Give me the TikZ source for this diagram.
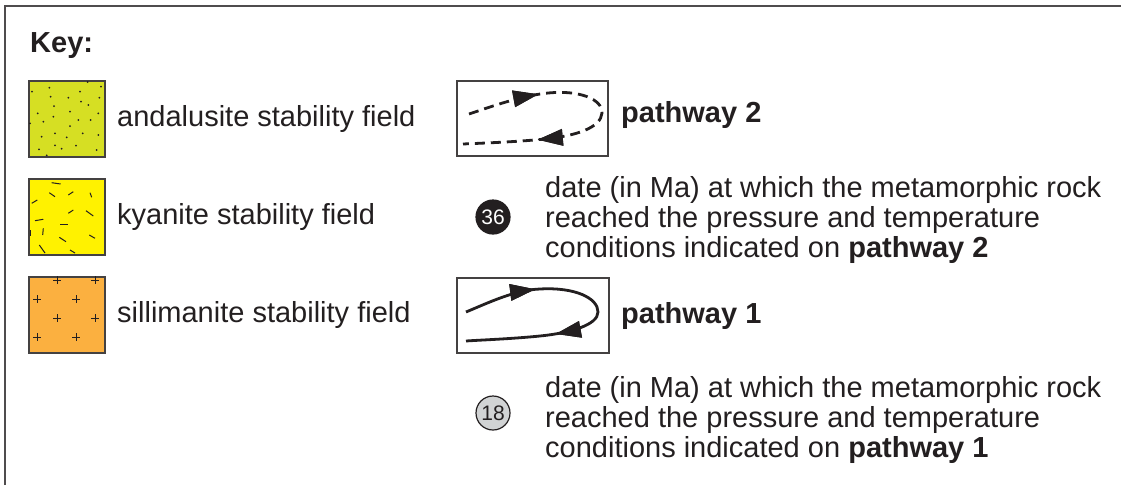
\documentclass[tikz,border=0pt]{standalone}
\usepackage{fontspec}
\setmainfont{Liberation Sans}
\usetikzlibrary{decorations.markings}
\definecolor{ink}{HTML}{231F20}
\definecolor{andal}{HTML}{D6DF23}
\definecolor{kyan}{HTML}{FFF200}
\definecolor{silli}{HTML}{FBB040}
\definecolor{pale}{HTML}{D1D3D4}
\tikzset{
  txt/.style={anchor=base west, inner sep=0pt, text=ink, font=\fontsize{29}{30}\selectfont},
  swatch/.style={draw=ink!85, line width=1.5pt},
  pathbox/.style={draw=ink!85, line width=1.3pt},
  route/.style={draw=ink, line width=2.8pt},
  routedash/.style={route, dash pattern=on 10pt off 6pt},
  datemark/.style={circle, draw=ink, line width=1.2pt, minimum size=34pt, inner sep=0pt, font=\fontsize{21}{21}\selectfont},
  % filled arrowhead placed along a path, tip at the mark
  headat/.style={postaction={decorate}, decoration={markings,
      mark=at position #1 with {\fill[ink, solid] (3,0) -- (-22,8.5) -- (-22,-8.5) -- cycle;}}},
}
\begin{document}
\begin{tikzpicture}[x=1pt,y=-1pt]
\useasboundingbox (0,0) rectangle (1121,485);
\fill[white] (0,0) rectangle (1121,485);

% frame
\draw[draw=ink!80, line width=1.5pt] (5,485) -- (5,6) -- (1121,6);

\node[txt, font=\fontsize{29}{30}\selectfont\bfseries] (key) at (30,52) {Key:};

% andalusite swatch: dots
\node[swatch, fill=andal, minimum size=76pt, inner sep=0pt] (sa) at (67,119) {};
\foreach \px/\py in {32/91.7,49.3/87.7,87.7/82,101/86.7,50.7/96.7,68.3/97.7,80/91.7,99.3/97.7,81/101.7,88.3/105,54/106,37.7/113.3,70/111.7,98.3/113.3,43.3/121.7,53.3/116.7,78.3/120,90.7/120,70/126,30/123.3,41.7/136.7,55/133.3,66.7/137.3,82.7/133.3,98.3/135,55/145.3,61.7/148.7,76/145.7,39/149.3,96.7/150,46.7/155.3}
  \fill[ink] (\px,\py) circle (1pt);

% kyanite swatch: short strokes
\node[swatch, fill=kyan, minimum size=76pt, inner sep=0pt] (sk) at (67,217) {};
\foreach \ax/\ay/\bx/\by in {51.7/182.7/60.7/184, 49.3/192.7/55/196.7, 68.3/195/73.3/191.7, 90/192.7/91.7/197.3, 31.7/203.3/37.3/200, 68.3/213.3/73.3/210, 86/210.7/93.3/216, 35/220.7/43.3/219.3, 60/224/68.3/224, 43.3/228.3/42.7/235, 59.3/237.3/66/241.7, 89.3/235/95/238.3, 39.3/245/45/253, 70/250/75/253, 30.5/230/30.5/236}
  \draw[ink, line width=1pt] (\ax,\ay) -- (\bx,\by);

% sillimanite swatch: crosses
\node[swatch, fill=silli, minimum size=76pt, inner sep=0pt] (ss) at (67,315) {};
\foreach \px/\py in {57/280,95/280,37/299,76/299,57/318,95/318,37/337,76/337}
  \draw[ink, line width=0.9pt] (\px-4,\py) -- (\px+4,\py) (\px,\py-4) -- (\px,\py+4);

\node[txt] (la) at (117,126) {andalusite stability field};
\node[txt] (lk) at (117,224) {kyanite stability field};
\node[txt] (ls) at (117,322) {sillimanite stability field};

% pathway 2 symbol
\node[pathbox, minimum width=151pt, minimum height=75pt, inner sep=0pt] (b2) at (532.5,118.5) {};
\draw[routedash, headat=69pt, headat=216pt]
  (469,114) .. controls (490,107) and (515,98) .. (540,94)
  .. controls (580,88) and (603,100) .. (602,113)
  .. controls (601,128) and (575,136) .. (545,139)
  .. controls (515,142) and (485,143) .. (463,144);
\node[txt, font=\fontsize{29}{30}\selectfont\bfseries] (p2) at (621,122) {pathway 2};

% date marker, pathway 2
\node[datemark, fill=ink, text=white] (d36) at (493,217) {36};
\node[txt] (t2a) at (545,197) {date (in Ma) at which the metamorphic rock};
\node[txt] (t2b) at (545,227) {reached the pressure and temperature};
\node[txt] (t2c) at (545,257) {conditions indicated on \textbf{pathway 2}};

% pathway 1 symbol
\node[pathbox, minimum width=152pt, minimum height=75pt, inner sep=0pt] (b1) at (533,315.5) {};
\draw[route, headat=70pt, headat=193pt]
  (466,312) .. controls (490,302) and (515,290) .. (540,289)
  .. controls (575,287) and (598,298) .. (598,312)
  .. controls (598,325) and (570,333) .. (540,336)
  .. controls (510,339) and (480,340) .. (466,341);
\node[txt, font=\fontsize{29}{30}\selectfont\bfseries] (p1) at (621,323) {pathway 1};

% date marker, pathway 1
\node[datemark, fill=pale, text=ink] (d18) at (493,413) {18};
\node[txt] (t1a) at (545,397) {date (in Ma) at which the metamorphic rock};
\node[txt] (t1b) at (545,427) {reached the pressure and temperature};
\node[txt] (t1c) at (545,457) {conditions indicated on \textbf{pathway 1}};
\end{tikzpicture}
\end{document}
